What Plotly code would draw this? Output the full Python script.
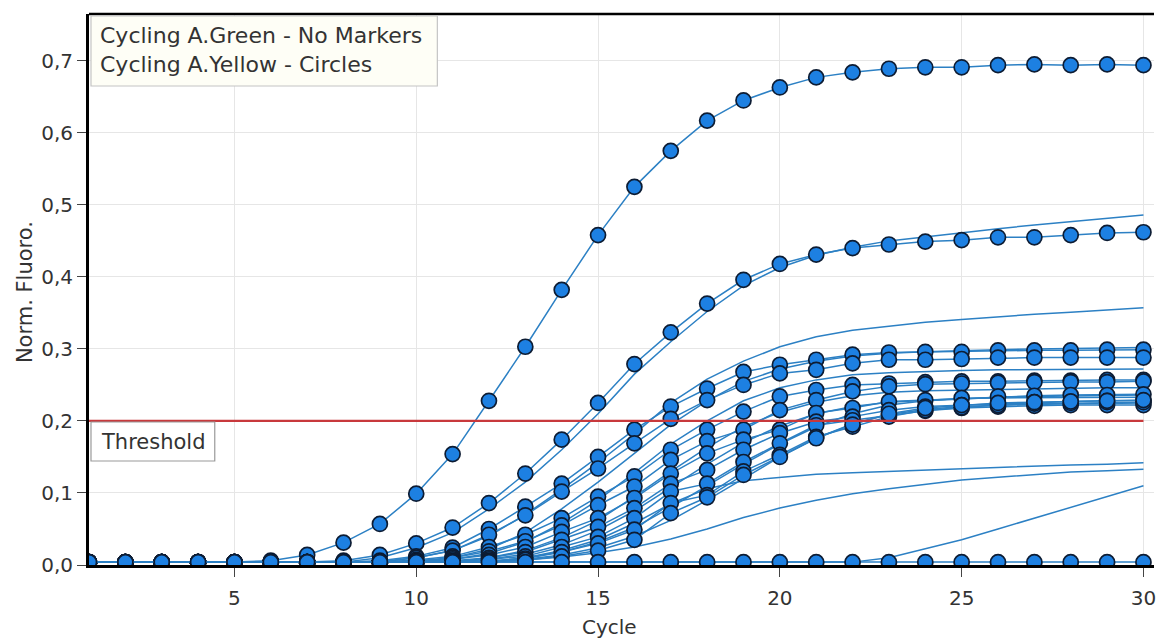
import plotly.graph_objects as go

# ---------------- data ----------------
cycles = list(range(1, 31))

# Cycling A.Yellow - Circles (curves drawn with markers)
yellow_curves = {
    "Y1": [0.004, 0.004, 0.004, 0.004, 0.004, 0.006, 0.014, 0.031, 0.057, 0.099,
           0.154, 0.228, 0.303, 0.382, 0.458, 0.525, 0.575, 0.617, 0.645, 0.663,
           0.677, 0.684, 0.689, 0.691, 0.691, 0.694, 0.695, 0.694, 0.695, 0.694],
    "Y2": [0.004, 0.004, 0.004, 0.004, 0.004, 0.004, 0.004, 0.006, 0.014, 0.030,
           0.052, 0.086, 0.127, 0.174, 0.225, 0.279, 0.323, 0.363, 0.396, 0.418,
           0.431, 0.440, 0.445, 0.449, 0.451, 0.455, 0.455, 0.458, 0.461, 0.462],
    "M1": [0.004, 0.004, 0.004, 0.004, 0.004, 0.004, 0.004, 0.004, 0.006, 0.012,
           0.024, 0.050, 0.081, 0.113, 0.150, 0.188, 0.220, 0.245, 0.268, 0.278,
           0.285, 0.292, 0.295, 0.296, 0.296, 0.298, 0.298, 0.298, 0.299, 0.299],
    "M2": [0.004, 0.004, 0.004, 0.004, 0.004, 0.004, 0.004, 0.004, 0.005, 0.010,
           0.020, 0.042, 0.069, 0.102, 0.134, 0.169, 0.203, 0.229, 0.250, 0.266,
           0.271, 0.280, 0.285, 0.285, 0.286, 0.288, 0.288, 0.288, 0.288, 0.288],
    "M3": [0.004, 0.004, 0.004, 0.004, 0.004, 0.004, 0.004, 0.004, 0.004, 0.007,
           0.012, 0.025, 0.042, 0.065, 0.095, 0.123, 0.160, 0.188, 0.213, 0.234,
           0.243, 0.250, 0.252, 0.254, 0.255, 0.255, 0.256, 0.256, 0.257, 0.257],
    "M4": [0.004, 0.004, 0.004, 0.004, 0.004, 0.004, 0.004, 0.004, 0.004, 0.006,
           0.010, 0.019, 0.033, 0.055, 0.083, 0.109, 0.146, 0.172, 0.188, 0.215,
           0.229, 0.241, 0.248, 0.251, 0.252, 0.253, 0.254, 0.254, 0.254, 0.255],
    "M5": [0.004, 0.004, 0.004, 0.004, 0.004, 0.004, 0.004, 0.004, 0.004, 0.005,
           0.008, 0.014, 0.025, 0.046, 0.065, 0.093, 0.127, 0.155, 0.174, 0.188,
           0.211, 0.218, 0.227, 0.229, 0.232, 0.234, 0.235, 0.236, 0.236, 0.237],
    "M6": [0.004, 0.004, 0.004, 0.004, 0.004, 0.004, 0.004, 0.004, 0.004, 0.004,
           0.006, 0.010, 0.018, 0.035, 0.053, 0.079, 0.113, 0.132, 0.160, 0.183,
           0.199, 0.206, 0.215, 0.220, 0.222, 0.224, 0.226, 0.227, 0.228, 0.228],
    "M7": [0.004, 0.004, 0.004, 0.004, 0.004, 0.004, 0.004, 0.004, 0.004, 0.004,
           0.005, 0.008, 0.012, 0.025, 0.039, 0.065, 0.102, 0.113, 0.143, 0.169,
           0.194, 0.201, 0.208, 0.214, 0.218, 0.220, 0.221, 0.222, 0.222, 0.222],
    "M8": [0.004, 0.004, 0.004, 0.004, 0.004, 0.004, 0.004, 0.004, 0.004, 0.004,
           0.004, 0.006, 0.009, 0.018, 0.030, 0.049, 0.086, 0.097, 0.130, 0.153,
           0.178, 0.192, 0.206, 0.215, 0.219, 0.222, 0.224, 0.225, 0.226, 0.226],
    "M9": [0.004, 0.004, 0.004, 0.004, 0.004, 0.004, 0.004, 0.004, 0.004, 0.004,
           0.004, 0.005, 0.007, 0.012, 0.020, 0.035, 0.072, 0.094, 0.125, 0.150,
           0.176, 0.195, 0.210, 0.218, 0.222, 0.225, 0.226, 0.227, 0.228, 0.229],
    "NEG": [0.004] * 30,
}

# Cycling A.Green - No Markers (plain lines)
green_curves = {
    "G1": [0.004, 0.004, 0.004, 0.004, 0.004, 0.004, 0.004, 0.004, 0.010, 0.024,
           0.045, 0.078, 0.115, 0.160, 0.210, 0.265, 0.310, 0.352, 0.388, 0.413,
           0.430, 0.441, 0.450, 0.456, 0.462, 0.467, 0.472, 0.477, 0.482, 0.486],
    "G2": [0.004, 0.004, 0.004, 0.004, 0.004, 0.004, 0.004, 0.004, 0.004, 0.010,
           0.020, 0.040, 0.070, 0.105, 0.142, 0.182, 0.225, 0.258, 0.283, 0.303,
           0.317, 0.326, 0.332, 0.337, 0.341, 0.345, 0.348, 0.351, 0.354, 0.357],
    "G3": [0.004, 0.004, 0.004, 0.004, 0.004, 0.004, 0.004, 0.004, 0.004, 0.004,
           0.010, 0.022, 0.045, 0.078, 0.115, 0.155, 0.195, 0.228, 0.255, 0.272,
           0.283, 0.290, 0.294, 0.296, 0.298, 0.299, 0.300, 0.301, 0.302, 0.302],
    "G4": [0.004, 0.004, 0.004, 0.004, 0.004, 0.004, 0.004, 0.004, 0.004, 0.004,
           0.008, 0.016, 0.032, 0.058, 0.090, 0.128, 0.168, 0.200, 0.228, 0.246,
           0.257, 0.264, 0.267, 0.269, 0.270, 0.271, 0.271, 0.272, 0.272, 0.272],
    "G5": [0.004, 0.004, 0.004, 0.004, 0.004, 0.004, 0.004, 0.004, 0.004, 0.004,
           0.004, 0.010, 0.020, 0.038, 0.062, 0.095, 0.130, 0.163, 0.192, 0.212,
           0.226, 0.235, 0.240, 0.242, 0.243, 0.244, 0.245, 0.245, 0.246, 0.246],
    "G6": [0.004, 0.004, 0.004, 0.004, 0.004, 0.004, 0.004, 0.004, 0.004, 0.004,
           0.004, 0.008, 0.015, 0.028, 0.048, 0.075, 0.108, 0.140, 0.170, 0.193,
           0.210, 0.220, 0.226, 0.229, 0.231, 0.232, 0.232, 0.233, 0.233, 0.233],
    "G7": [0.004, 0.004, 0.004, 0.004, 0.004, 0.004, 0.004, 0.004, 0.004, 0.004,
           0.004, 0.004, 0.010, 0.018, 0.032, 0.052, 0.080, 0.110, 0.140, 0.168,
           0.192, 0.210, 0.222, 0.228, 0.231, 0.233, 0.234, 0.235, 0.236, 0.236],
    "G8": [0.004, 0.004, 0.004, 0.004, 0.004, 0.004, 0.004, 0.004, 0.004, 0.004,
           0.004, 0.004, 0.008, 0.014, 0.024, 0.040, 0.062, 0.090, 0.120, 0.150,
           0.176, 0.196, 0.209, 0.216, 0.220, 0.222, 0.223, 0.224, 0.225, 0.225],
    "L1": [0.004, 0.004, 0.004, 0.004, 0.004, 0.004, 0.004, 0.004, 0.004, 0.004,
           0.004, 0.004, 0.010, 0.020, 0.035, 0.058, 0.085, 0.106, 0.117, 0.122,
           0.126, 0.128, 0.130, 0.131, 0.133, 0.135, 0.137, 0.139, 0.140, 0.142],
    "L2": [0.004, 0.004, 0.004, 0.004, 0.004, 0.004, 0.004, 0.004, 0.004, 0.004,
           0.004, 0.004, 0.007, 0.011, 0.017, 0.025, 0.036, 0.050, 0.066, 0.079,
           0.090, 0.099, 0.106, 0.112, 0.118, 0.122, 0.126, 0.129, 0.131, 0.133],
    "L3": [0.004, 0.004, 0.004, 0.004, 0.004, 0.004, 0.004, 0.004, 0.004, 0.004,
           0.004, 0.004, 0.004, 0.004, 0.004, 0.004, 0.004, 0.004, 0.004, 0.004,
           0.004, 0.004, 0.010, 0.022, 0.035, 0.050, 0.065, 0.080, 0.095, 0.110],
}

threshold_value = 0.2
threshold_x = [1, 30]

x_tickvals = [5, 10, 15, 20, 25, 30]
y_tickvals = [0.0, 0.1, 0.2, 0.3, 0.4, 0.5, 0.6, 0.7]
y_ticktext = ["0,0", "0,1", "0,2", "0,3", "0,4", "0,5", "0,6", "0,7"]

legend_lines = ["Cycling A.Green - No Markers", "Cycling A.Yellow - Circles"]
threshold_label = "Threshold"
x_title = "Cycle"
y_title = "Norm. Fluoro."

# ---------------- styles ----------------
LINE_COLOR = "#2c80c4"
MARKER_FILL = "#1d80e2"
MARKER_EDGE = "#0d1c33"
FONT = "DejaVu Sans"
TEXT_COLOR = "#333333"

fig = go.Figure()

for name, vals in green_curves.items():
    fig.add_trace(go.Scatter(
        x=cycles, y=vals, mode="lines", name=name,
        line=dict(color=LINE_COLOR, width=1.5), hoverinfo="skip",
        showlegend=False))

for name, vals in yellow_curves.items():
    fig.add_trace(go.Scatter(
        x=cycles, y=vals, mode="lines+markers", name=name,
        line=dict(color=LINE_COLOR, width=1.5),
        marker=dict(symbol="circle", size=15, color=MARKER_FILL,
                    line=dict(color=MARKER_EDGE, width=1.7)),
        hoverinfo="skip", showlegend=False))

fig.add_trace(go.Scatter(
    x=threshold_x, y=[threshold_value] * len(threshold_x), mode="lines",
    line=dict(color="#c8393c", width=2.2), hoverinfo="skip", showlegend=False))

# plot area at page pixels x 89..1156, y 14..565 (body margin removed below)
W, H = 1156, 639
L, R, T, B = 89, 0, 14, 639 - 565
pw, ph = W - L - R, H - T - B


def px(xp):
    return (xp - L) / pw


def py(yp):
    return (H - B - yp) / ph


fig.update_layout(
    width=W, height=H,
    margin=dict(l=L, r=R, t=T, b=B, pad=0),
    paper_bgcolor="white", plot_bgcolor="white",
    font=dict(family=FONT, size=20, color=TEXT_COLOR),
    xaxis=dict(range=[1, 30.29], tickvals=x_tickvals, showgrid=True,
               gridcolor="#e6e6e6", gridwidth=1, zeroline=False,
               showline=True, linecolor="black", linewidth=3,
               ticks="outside", ticklen=9, tickwidth=1, tickcolor="#444",
               tickfont=dict(family=FONT, size=20, color=TEXT_COLOR),
               ticklabelstandoff=4, ticklabeloverflow="allow"),
    yaxis=dict(range=[0, 0.765], tickvals=y_tickvals, ticktext=y_ticktext,
               showgrid=True, gridcolor="#e6e6e6", gridwidth=1, zeroline=False,
               showline=True, linecolor="black", linewidth=3,
               ticks="outside", ticklen=9, tickwidth=1, tickcolor="#444",
               tickfont=dict(family=FONT, size=20, color=TEXT_COLOR)),
    shapes=[
        dict(type="line", xref="paper", yref="paper", x0=0, x1=1, y0=1, y1=1,
             line=dict(color="black", width=2.5)),
        dict(type="rect", xref="paper", yref="paper",
             x0=px(91), x1=px(438), y0=py(86), y1=py(16),
             fillcolor="#fefef6", line=dict(color="#c4c4c4", width=1.2)),
        dict(type="rect", xref="paper", yref="paper",
             x0=px(91), x1=px(215), y0=py(461), y1=py(422),
             fillcolor="white", line=dict(color="#9a9a9a", width=1.2)),
    ],
    annotations=[
        dict(text=legend_lines[0], xref="paper", yref="paper", x=px(98), y=py(36),
             xanchor="left", yanchor="middle", showarrow=False,
             font=dict(family=FONT, size=22, color=TEXT_COLOR)),
        dict(text=legend_lines[1], xref="paper", yref="paper", x=px(98), y=py(64),
             xanchor="left", yanchor="middle", showarrow=False,
             font=dict(family=FONT, size=22, color=TEXT_COLOR)),
        dict(text=threshold_label, xref="paper", yref="paper", x=px(99), y=py(442),
             xanchor="left", yanchor="middle", showarrow=False,
             font=dict(family=FONT, size=21, color=TEXT_COLOR)),
        dict(text=x_title, xref="paper", yref="paper", x=px(610), y=py(627),
             xanchor="center", yanchor="middle", showarrow=False,
             font=dict(family=FONT, size=20, color=TEXT_COLOR)),
        dict(text=y_title, xref="paper", yref="paper", x=px(25), y=py(292),
             xanchor="center", yanchor="middle", showarrow=False, textangle=-90,
             font=dict(family=FONT, size=21, color=TEXT_COLOR)),
    ],
)

fig.write_html(
    "out.html",
    config={"displayModeBar": False},
    post_script="document.body.style.margin='0';"
                "document.body.style.overflow='hidden';",
)
